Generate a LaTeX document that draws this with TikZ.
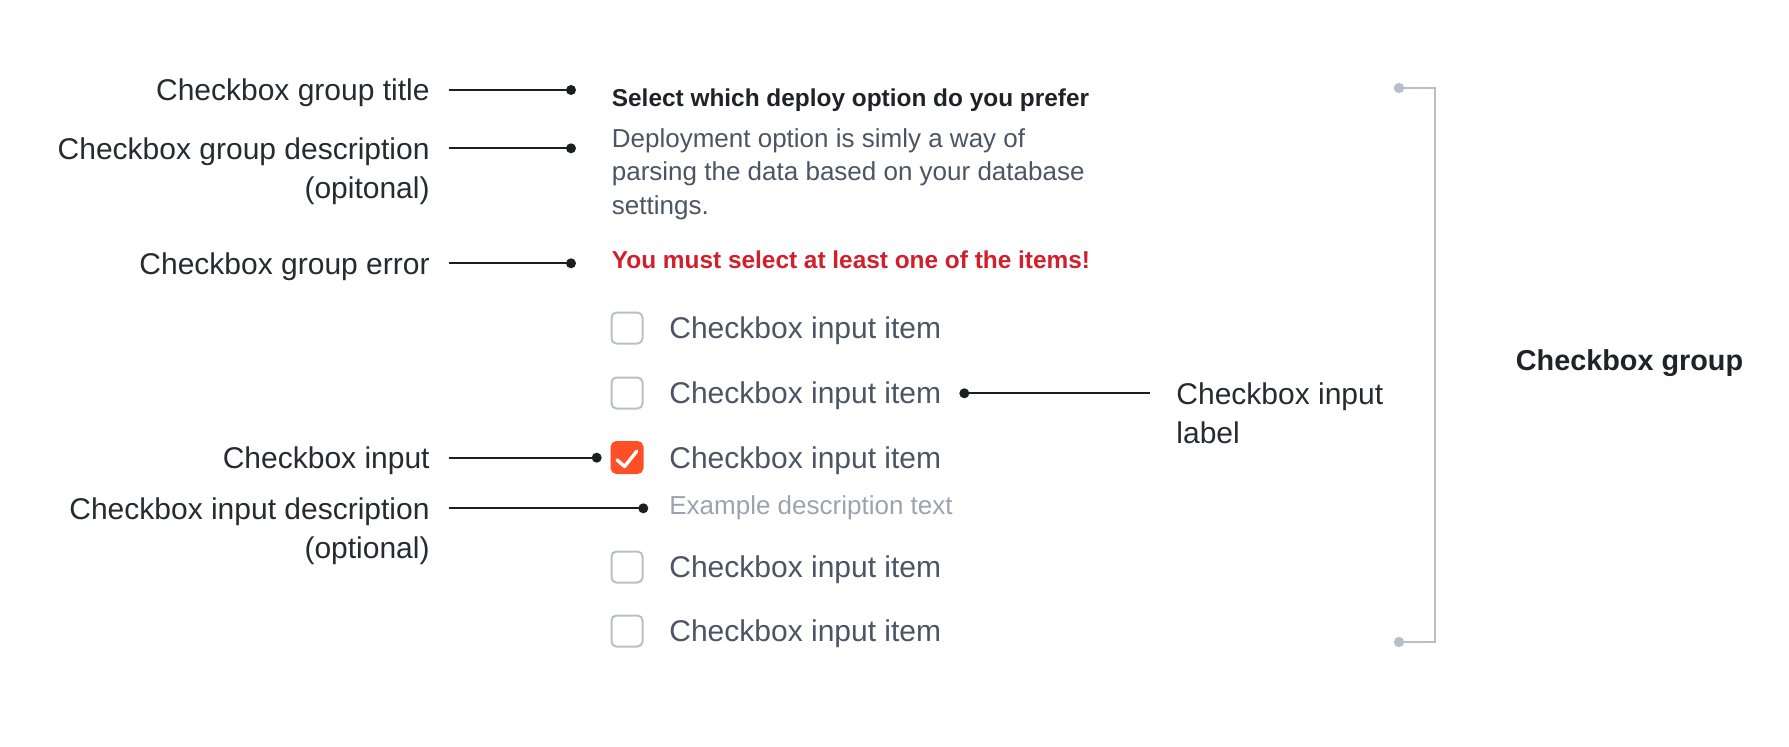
\documentclass[tikz,border=0pt]{standalone}
\usepackage{fontspec}
\setmainfont{Liberation Sans}
\usetikzlibrary{positioning, calc}

\definecolor{annotext}{HTML}{272A30}
\definecolor{annoline}{HTML}{1C1E22}
\definecolor{titletext}{HTML}{1F2328}
\definecolor{desctext}{HTML}{4B5563}
\definecolor{errortext}{HTML}{D11F2B}
\definecolor{hinttext}{HTML}{9CA3AF}
\definecolor{boxborder}{HTML}{B9BECA}
\definecolor{boxchecked}{HTML}{FF4F28}
\definecolor{bracketgray}{HTML}{B9BFCA}

\begin{document}
\begin{tikzpicture}[
    x=0.5pt, y=-0.5pt, % 1 单位 = 参考图 1 像素
    annotation/.style={text=annotext, font=\fontsize{15}{19.6}\selectfont,
                       inner xsep=9.5pt, inner ysep=0pt},
    leader/.style={annoline, line width=1pt},
    dot/.style={fill=annoline},
    cbox/.style={draw=boxborder, line width=1pt, rounded corners=2.5pt,
                 minimum size=15.5pt, inner sep=0pt},
    cboxon/.style={cbox, draw=boxchecked, fill=boxchecked},
    itemtext/.style={text=desctext, font=\fontsize{15}{18}\selectfont,
                     anchor=base west, inner sep=0pt}
  ]
  \useasboundingbox (0,0) rectangle (1789,746);

  % --- 定义参数 ---
  \def\LineX{449}     % 左侧引线起点
  \def\TextX{611.5}   % 内容左边
  \def\ItemX{669}     % 选项文字左边

  % --- 内容：标题 / 描述 / 错误 ---
  \node[anchor=base west, inner sep=0pt, text=titletext,
        font=\fontsize{12.2}{15}\selectfont\bfseries] (grpTitle) at (\TextX, 106.5)
        {Select which deploy option do you prefer};
  \node[anchor=north west, inner sep=0pt, align=left, text=desctext,
        font=\fontsize{13}{16.7}\selectfont] (grpDesc) at (\TextX, 128)
        {Deployment option is simly a way of\\parsing the data based on your database\\settings.};
  \node[anchor=base west, inner sep=0pt, text=errortext,
        font=\fontsize{12.2}{15}\selectfont\bfseries] (grpError) at (\TextX, 268)
        {You must select at least one of the items!};

  % --- 复选框列表 ---
  \foreach \y/\st [count=\i] in {328/cbox, 393/cbox, 457.5/cboxon, 567/cbox, 631/cbox} {
      \node[\st] (box\i) at (627, \y) {};
      \node[itemtext] (item\i) at (\ItemX, \y+10.7) {Checkbox input item};
  }
  % 勾选标记
  \draw[white, line width=1.7pt, line cap=round, line join=round]
      ([shift={(-10,2.3)}]box3.center) -- ++(7.5,6.7) -- ++(12.3,-15.3);
  \node[anchor=base west, inner sep=0pt, text=hinttext,
        font=\fontsize{13}{16}\selectfont] (itemHint) at (\ItemX, 514.3)
        {Example description text};

  % --- 左侧注释 ---
  \node[annotation, anchor=base east] (lblTitle) at (\LineX, 100.7) {Checkbox group title};
  \node[annotation, anchor=north east, align=right] (lblDesc) at (\LineX, 137.5)
        {Checkbox group description\\(opitonal)};
  \node[annotation, anchor=base east] (lblError) at (\LineX, 274) {Checkbox group error};
  \node[annotation, anchor=base east] (lblInput) at (\LineX, 468.4) {Checkbox input};
  \node[annotation, anchor=north east, align=right] (lblInDesc) at (\LineX, 497.5)
        {Checkbox input description\\(optional)};
  % 右侧注释
  \node[annotation, anchor=north west, align=left, inner xsep=13pt] (lblItemLabel)
        at (1150, 382.5) {Checkbox input\\label};

  % --- 引线端点 ---
  \coordinate (dotTitle)   at (571, 90);
  \coordinate (dotDesc)    at (571, 148.3);
  \coordinate (dotError)   at (571, 263.3);
  \coordinate (dotInput)   at (596.7, 457.7);
  \coordinate (dotInDesc)  at (643.3, 508.3);
  \coordinate (dotLabel)   at (964.3, 393.3);

  \foreach \n in {Title, Desc, Error, Input, InDesc} {
      \draw[leader] (lbl\n.east |- dot\n) -- (dot\n);
  }
  \draw[leader] (dotLabel) -- (lblItemLabel.west |- dotLabel);
  \foreach \n in {Title, Desc, Error, Input, InDesc, Label} {
      \fill[dot] (dot\n) circle (2.5pt);
  }

  % --- 右侧括号 ---
  \coordinate (brTop) at (1399, 88);
  \coordinate (brBot) at (1399, 642);
  \draw[bracketgray, line width=1.1pt] (brTop) -- ++(36,0) |- (brBot);
  \fill[bracketgray] (brTop) circle (2.6pt) (brBot) circle (2.6pt);
  \node[anchor=base, inner sep=0pt, text=titletext,
        font=\fontsize{14.4}{17}\selectfont\bfseries] (grpLabel) at (1629.5, 370.3)
        {Checkbox group};

\end{tikzpicture}
\end{document}
